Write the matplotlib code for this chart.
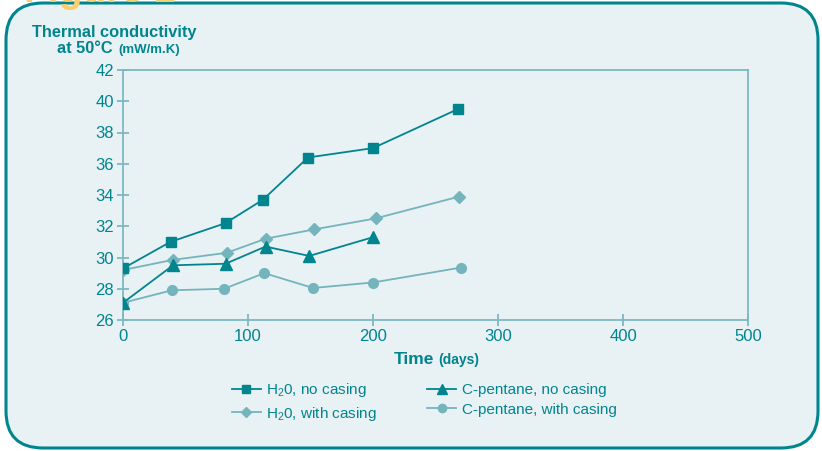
import matplotlib
matplotlib.use("Agg")
import matplotlib.pyplot as plt
from matplotlib.patches import FancyBboxPatch

days_h2o = [0, 38, 82, 112, 148, 200, 268]
h2o_no_casing = [29.3, 31.0, 32.2, 33.7, 36.4, 37.0, 39.5]
days_h2o_c = [0, 40, 83, 114, 153, 202, 269]
h2o_with_casing = [29.2, 29.85, 30.3, 31.2, 31.8, 32.5, 33.9]
days_cp = [0, 40, 82, 114, 149, 200]
cp_no_casing = [27.1, 29.5, 29.6, 30.7, 30.1, 31.3]
days_cp_c = [0, 39, 81, 113, 152, 200, 270]
cp_with_casing = [27.1, 27.9, 28.0, 29.0, 28.05, 28.4, 29.35]

labels = ["H$_2$0, no casing", "H$_2$0, with casing", "C-pentane, no casing", "C-pentane, with casing"]
xticks = [0, 100, 200, 300, 400, 500]
yticks = [26, 28, 30, 32, 34, 36, 38, 40, 42]

DARK = "#00858f"
LIGHT = "#74b4bc"
SPINE = "#7db8bf"
BG = "#e8f1f3"
FONT = ["Liberation Sans", "DejaVu Sans"]

plt.rcParams["mathtext.fontset"] = "custom"
plt.rcParams["mathtext.rm"] = "Liberation Sans"
plt.rcParams["mathtext.it"] = "Liberation Sans"

W, H = 822, 451
fig = plt.figure(figsize=(W / 100, H / 100), dpi=100)
fig.patch.set_facecolor("white")

def fx(p):
    return p / W

def fy(p):
    return 1 - p / H

# background rounded panel
panel = FancyBboxPatch((fx(6), fy(448)), fx(812), (448 - 3) / H,
                       boxstyle="round,pad=0,rounding_size=0.045",
                       transform=fig.transFigure, facecolor=BG,
                       edgecolor=DARK, linewidth=2.2, mutation_aspect=W / H, zorder=-10)
fig.patches.append(panel)

# cut-off gold heading (only its lower edge shows, as in the source)
fig.text(fx(24), fy(2), "Figure 1", color="#f7cf6e", fontsize=28, fontweight="bold",
         family="Liberation Sans", va="baseline", ha="left", zorder=-5)

ax = fig.add_axes([fx(123), fy(320), fx(748) - fx(123), fy(70) - fy(320)])
ax.set_zorder(5)
ax.set_facecolor(BG)

ax.plot(days_h2o, h2o_no_casing, color=DARK, marker="s", markersize=7, lw=1.3, label=labels[0], zorder=4)
ax.plot(days_h2o_c, h2o_with_casing, color=LIGHT, marker="D", markersize=6.5, lw=1.3, label=labels[1], zorder=3)
ax.plot(days_cp, cp_no_casing, color=DARK, marker="^", markersize=8, lw=1.3, label=labels[2], zorder=4)
ax.plot(days_cp_c, cp_with_casing, color=LIGHT, marker="o", markersize=7, lw=1.3, label=labels[3], zorder=3)

ax.set_xlim(0, 500)
ax.set_ylim(26, 42)
ax.set_xticks(xticks)
ax.set_yticks(yticks)
for s in ax.spines.values():
    s.set_color(SPINE)
    s.set_linewidth(1.3)
ax.tick_params(direction="inout", length=9, width=1.3, color=SPINE, labelcolor=DARK,
               labelsize=12, pad=2)
for lab in ax.get_xticklabels() + ax.get_yticklabels():
    lab.set_family(FONT)

# y label (title block)
fig.text(fx(32), fy(37), "Thermal conductivity", color=DARK, fontsize=11.8, fontweight="bold",
         family="Liberation Sans", va="baseline", ha="left")
fig.text(fx(57), fy(53), "at 50°C", color=DARK, fontsize=11.8, fontweight="bold",
         family="Liberation Sans", va="baseline", ha="left")
fig.text(fx(118), fy(53), "(mW/m.K)", color=DARK, fontsize=9.5, fontweight="bold",
         family="Liberation Sans", va="baseline", ha="left")

# x label
fig.text(fx(434), fy(364), "Time", color=DARK, fontsize=12.5, fontweight="bold",
         family="Liberation Sans", va="baseline", ha="right")
fig.text(fx(438), fy(364), "(days)", color=DARK, fontsize=10, fontweight="bold",
         family="Liberation Sans", va="baseline", ha="left")

handles, labs = ax.get_legend_handles_labels()
leg = fig.legend(handles, labs, ncol=2, loc="center", bbox_to_anchor=(fx(424), fy(402)),
                 frameon=False, handlelength=1.9, handletextpad=0.35, columnspacing=3.3,
                 labelspacing=0.35, prop={"family": FONT, "size": 11}, labelcolor=DARK,
                 markerscale=0.85)

fig.savefig("out.png", dpi=100, facecolor="white")
